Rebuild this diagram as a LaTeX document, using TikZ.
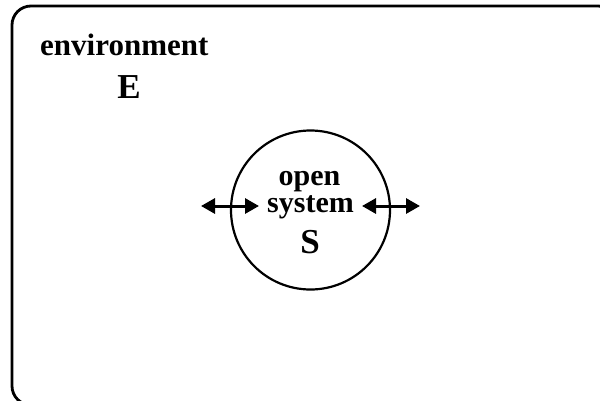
\documentclass[tikz,border=0pt]{standalone}
\usepackage{fontspec}
\setmainfont{Liberation Serif}
\usetikzlibrary{arrows.meta}
\begin{document}
\begin{tikzpicture}[x=1pt,y=-1pt,
  lbl/.style={inner sep=0pt,anchor=base,font=\bfseries\fontsize{30}{30}\selectfont},
  envlbl/.style={inner sep=0pt,anchor=base west,font=\bfseries\fontsize{31}{31}\selectfont},
  biglbl/.style={inner sep=0pt,anchor=base,font=\bfseries\fontsize{35}{35}\selectfont},
  dblarrow/.style={line width=3pt,{Triangle[length=14pt,width=15pt]}-{Triangle[length=14pt,width=15pt]}}]
\useasboundingbox (0,0) rectangle (600,400);
\draw[line width=2.8pt,rounded corners=19pt] (12,6) rectangle (617,405);
\node[envlbl] (env) at (40,55) {environment};
\node[biglbl] (E) at (129,98) {E};
\node[circle,draw,line width=2.2pt,minimum size=159pt,inner sep=0pt] (sys) at (310.5,210) {};
\node[lbl] (open) at (309.5,185) {open};
\node[lbl] (system) at (310.5,212) {system};
\node[biglbl] (S) at (310,253) {S};
\coordinate (l1) at (201,206);
\coordinate (l2) at (259,206);
\coordinate (r1) at (362,206);
\coordinate (r2) at (420,206);
\draw[dblarrow] (l1) -- (l2);
\draw[dblarrow] (r1) -- (r2);
\end{tikzpicture}
\end{document}
